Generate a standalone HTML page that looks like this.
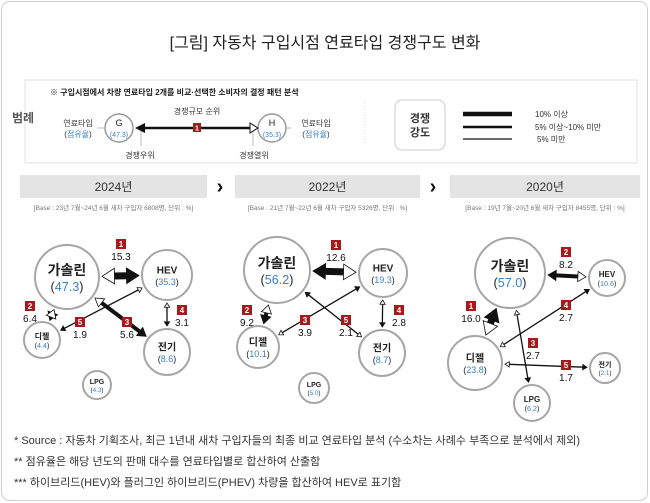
<!DOCTYPE html>
<html><head><meta charset="utf-8">
<style>
html,body{margin:0;padding:0;background:#fff;}
svg{display:block;font-family:"Liberation Sans","Noto Sans CJK KR",sans-serif;}
</style></head>
<body>
<svg id="chart" width="650" height="503" viewBox="0 0 650 503">
  <rect x="1.5" y="1.5" width="646" height="499" rx="8" fill="#fff" stroke="#cfcfcf"/>
  <text x="325" y="48" text-anchor="middle" font-size="16" fill="#222">[그림] 자동차 구입시점 연료타입 경쟁구도 변화</text>

  <g>
    <rect x="25" y="80" width="612" height="83" fill="#fff" stroke="#e2e2e2"/>
    <text x="12" y="122" font-size="12" font-weight="bold" fill="#555">범례</text>
    <text x="50" y="95" font-size="8" font-weight="bold" fill="#222">※ 구입시점에서 차량 연료타입 2개를 비교·선택한 소비자의 결정 패턴 분석</text>
    <line x1="97" y1="128" x2="104" y2="128" stroke="#bbb"/>
    <line x1="284" y1="128" x2="291" y2="128" stroke="#bbb"/>
    <line x1="141" y1="130" x2="141" y2="146" stroke="#bbb"/>
    <line x1="253" y1="130" x2="253" y2="146" stroke="#bbb"/>
    <text x="78" y="126" font-size="8" fill="#333" text-anchor="middle">연료타입</text>
    <text x="78" y="137" font-size="8" fill="#333" text-anchor="middle">(<tspan fill="#3a7fc9">점유율</tspan>)</text>
    <text x="316" y="126" font-size="8" fill="#333" text-anchor="middle">연료타입</text>
    <text x="316" y="137" font-size="8" fill="#333" text-anchor="middle">(<tspan fill="#3a7fc9">점유율</tspan>)</text>
    <circle cx="119" cy="128" r="14" fill="#fff" stroke="#999" stroke-width="1.5"/>
    <text x="119" y="126" font-size="9" text-anchor="middle" fill="#222">G</text>
    <text x="119" y="137" font-size="7" text-anchor="middle" fill="#3a7fc9">(47.3)</text>
    <circle cx="272" cy="128" r="14" fill="#fff" stroke="#999" stroke-width="1.5"/>
    <text x="272" y="126" font-size="9" text-anchor="middle" fill="#222">H</text>
    <text x="272" y="137" font-size="7" text-anchor="middle" fill="#3a7fc9">(35.3)</text>
    <line x1="143" y1="128" x2="250" y2="128" stroke="#111" stroke-width="2.5"/>
    <polygon points="135,128 145,123 145,133" fill="#111"/>
    <polygon points="258,128 250,123 250,133" fill="#fff" stroke="#111"/>
    <rect x="193" y="123" width="8" height="9" fill="#a51a1a"/>
    <text x="197" y="130.5" font-size="7" text-anchor="middle" fill="#fff" font-weight="bold">1</text>
    <text x="197" y="114" font-size="8" text-anchor="middle" fill="#333">경쟁규모 순위</text>
    <text x="140" y="158" font-size="8" text-anchor="middle" fill="#333">경쟁우위</text>
    <text x="254" y="158" font-size="8" text-anchor="middle" fill="#333">경쟁열위</text>
    <line x1="365" y1="100" x2="365" y2="145" stroke="#ddd" stroke-dasharray="1,2"/>
    <rect x="395" y="100" width="50" height="50" rx="7" fill="#fff" stroke="#ccc"/>
    <text x="420" y="122" font-size="11" font-weight="bold" text-anchor="middle" fill="#333">경쟁</text>
    <text x="420" y="136" font-size="11" font-weight="bold" text-anchor="middle" fill="#333">강도</text>
    <line x1="463" y1="114" x2="512" y2="114" stroke="#111" stroke-width="4.5"/>
    <line x1="463" y1="127" x2="512" y2="127" stroke="#111" stroke-width="2.5"/>
    <line x1="463" y1="139" x2="512" y2="139" stroke="#111" stroke-width="1.2"/>
    <text x="535" y="117" font-size="8" fill="#333">10% 이상</text>
    <text x="535" y="130" font-size="8" fill="#333">5% 이상~10% 미만</text>
    <text x="537" y="142" font-size="8" fill="#333">5% 미만</text>
  </g>

  <g id="panels"></g>

  <g font-size="11" fill="#333">
    <text x="14" y="444">* Source : 자동차 기획조사, 최근 1년내 새차 구입자들의 최종 비교 연료타입 분석 (수소차는 사례수 부족으로 분석에서 제외)</text>
    <text x="14" y="465">** 점유율은 해당 년도의 판매 대수를 연료타입별로 합산하여 산출함</text>
    <text x="14" y="486">*** 하이브리드(HEV)와 플러그인 하이브리드(PHEV) 차량을 합산하여 HEV로 표기함</text>
  </g>
</svg>
<script>
const years = ['2024년','2022년','2020년'];
const baseNotes = ['[Base : 23년 7월~24년 6월 새차 구입자 6808명, 단위 : %]','[Base : 21년 7월~22년 6월 새차 구입자 5326명, 단위 : %]','[Base : 19년 7월~20년 6월 새차 구입자 8455명, 단위 : %]'];
const fuels = ['가솔린','HEV','디젤','전기','LPG'];
const shares2024 = [47.3,35.3,4.4,8.6,4.3];
const shares2022 = [56.2,19.3,10.1,8.7,5.0];
const shares2020 = [57.0,10.6,23.8,2.1,6.2];
// competition pairs: [winner, loser] indices into fuels
const pairs2024 = [[1,0],[2,0],[3,0],[3,1],[2,1]];
const values2024 = [15.3,6.4,5.6,3.1,1.9];
const ranks2024 = [1,2,3,4,5];
const pairs2022 = [[0,1],[2,0],[1,2],[0,3],[3,1]];
const values2022 = [12.6,9.2,3.9,2.1,2.8];
const ranks2022 = [1,2,3,5,4];
const pairs2020 = [[0,2],[0,1],[1,2],[4,0],[3,2]];
const values2020 = [16.0,8.2,2.7,2.7,1.7];
const ranks2020 = [1,2,4,3,5];

// layout only
const layouts = [
 {x0:0, bar:[20,187], c:[[67,277,32],[167,275,25],[42,340,18],[167,352,23],[97,385,14]],
  lab:[[121,244],[30,306],[127,322],[182,310],[80,322]]},
 {x0:220, bar:[235,185], c:[[277,270,33],[383,273,24],[258,347,21],[382,353,23],[314,388,15]],
  lab:[[336,245],[247,310],[305,320],[346,320],[399,310]]},
 {x0:440, bar:[450,190], c:[[510,273,35],[607,278,18],[475,363,27],[605,368,15],[532,403,18]],
  lab:[[471,306],[566,252],[566,305],[533,343],[566,365]]}
];
const allShares=[shares2024,shares2022,shares2020];
const allPairs=[pairs2024,pairs2022,pairs2020];
const allValues=[values2024,values2022,values2020];
const allRanks=[ranks2024,ranks2022,ranks2020];
const NS='http://www.w3.org/2000/svg';
const root=document.getElementById('panels');
function mk(tag,attrs,parent){const e=document.createElementNS(NS,tag);for(const k in attrs)e.setAttribute(k,attrs[k]);(parent||root).appendChild(e);return e;}
function widthFor(v){return v>=10?7:(v>=5?4:1.3);}
function head(x,y,ux,uy,size,filled,g){
  const px=-uy,py=ux;
  const bx=x-ux*size*1.6,by=y-uy*size*1.6;
  const p=`${x},${y} ${bx+px*size},${by+py*size} ${bx-px*size},${by-py*size}`;
  const e=mk('polygon',{points:p,fill:filled?'#111':'#fff',stroke:'#111','stroke-width':0.8},g);
  
  
}
layouts.forEach((L,pi)=>{
  const g=mk('g',{});
  
  
  const bar=mk('rect',{x:L.bar[0],y:175,width:L.bar[1],height:23,fill:'#e4e4e4'},g);
  
  
  const yt=mk('text',{x:L.bar[0]+L.bar[1]/2,y:191,'text-anchor':'middle','font-size':12,fill:'#333'},g);
  yt.textContent=years[pi];
  
  
  const bt=mk('text',{x:L.bar[0]+L.bar[1]/2,y:210,'text-anchor':'middle','font-size':6.5,fill:'#777'},g);
  bt.textContent=baseNotes[pi];
  
  
  if(pi<2){
    const ch=mk('text',{x:L.bar[0]+L.bar[1]+13,y:193,'text-anchor':'middle','font-size':20,'font-weight':'bold',fill:'#111'},g);
    ch.textContent='›';
    
    
  }
  const sh=allShares[pi];
  L.c.forEach((c,i)=>{
    const ci=mk('circle',{cx:c[0],cy:c[1],r:c[2],fill:'#fff',stroke:'#a6a6a6','stroke-width':2},g);
    
    
  });
  allPairs[pi].forEach((p,k)=>{
    const a=L.c[p[1]],b=L.c[p[0]];
    const dx=b[0]-a[0],dy=b[1]-a[1],d=Math.hypot(dx,dy),ux=dx/d,uy=dy/d;
    const sx=a[0]+ux*(a[2]+3),sy=a[1]+uy*(a[2]+3),ex=b[0]-ux*(b[2]+3),ey=b[1]-uy*(b[2]+3);
    const w=widthFor(allValues[pi][k]);
    const hs=Math.max(2.5,w*0.9+1.5);
    const ln=mk('line',{x1:sx+ux*hs*1.6,y1:sy+uy*hs*1.6,x2:ex-ux*hs*1.2,y2:ey-uy*hs*1.2,stroke:'#111','stroke-width':w},g);
    
    
    head(ex,ey,ux,uy,hs,true,g);
    head(sx,sy,-ux,-uy,hs,false,g);
    const lb=L.lab[k];
    const rb=mk('rect',{x:lb[0]-5,y:lb[1]-5,width:10,height:10,fill:'#a51a1a'},g);
    
    
    const rt=mk('text',{x:lb[0],y:lb[1]+3,'text-anchor':'middle','font-size':8,'font-weight':'bold',fill:'#fff'},g);
    rt.textContent=allRanks[pi][k];
    
    
    const vt=mk('text',{x:lb[0],y:lb[1]+16,'text-anchor':'middle','font-size':10,fill:'#111'},g);
    vt.textContent=allValues[pi][k].toFixed(1);
    
    
  });
  L.c.forEach((c,i)=>{
    const fs=c[2]>=30?14:(c[2]>=20?10:(c[2]>=16?8:7));
    const nt=mk('text',{x:c[0],y:c[1]-fs*0.15,'text-anchor':'middle','font-size':fs,'font-weight':'bold',fill:'#222'},g);
    nt.textContent=fuels[i];
    
    
    const st=mk('text',{x:c[0],y:c[1]+fs*1.0,'text-anchor':'middle','font-size':fs*0.9,fill:'#222'},g);
    st.innerHTML='(<tspan fill="#3a7fc9">'+sh[i].toFixed(1)+'</tspan>)';
    
    
  });
});
</script>
</body></html>
